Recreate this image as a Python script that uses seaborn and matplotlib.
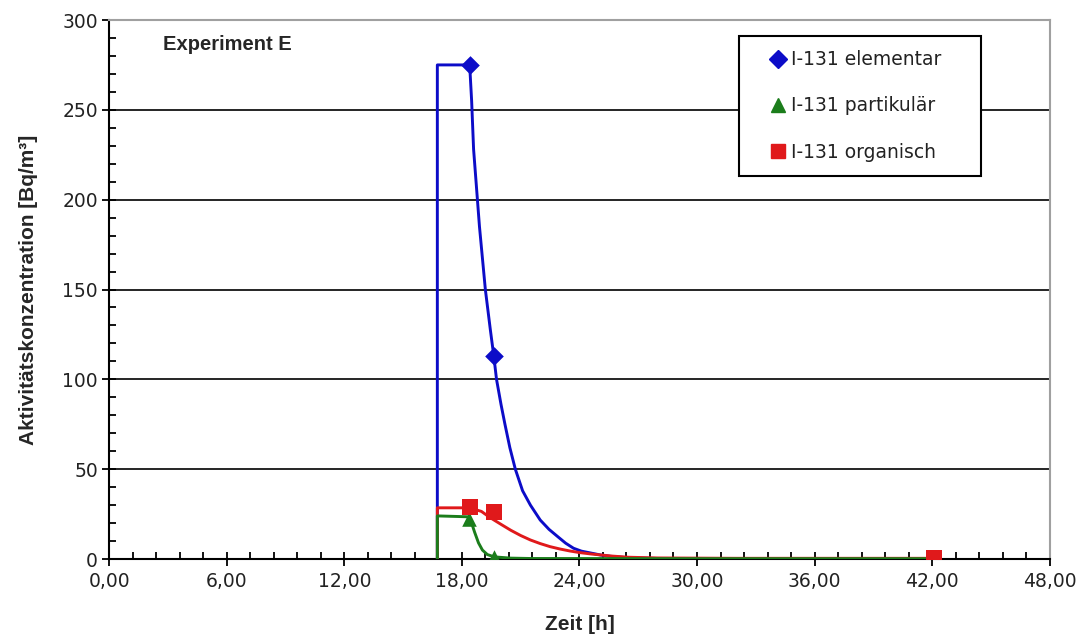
import matplotlib
matplotlib.use("Agg")
import matplotlib.pyplot as plt
import seaborn as sns
from matplotlib.lines import Line2D
from matplotlib.ticker import MultipleLocator

# ---- time axis ticks ----
x_ticks = [0, 6, 12, 18, 24, 30, 36, 42, 48]
x_tick_labels = ["0,00", "6,00", "12,00", "18,00", "24,00", "30,00", "36,00", "42,00", "48,00"]
y_ticks = [0, 50, 100, 150, 200, 250, 300]

series_names = ["I-131 elementar", "I-131 partikulär", "I-131 organisch"]

# ---- I-131 elementar: continuous trace and sample points ----
elem_t = [16.75, 16.75, 18.4, 18.5, 18.6, 18.9, 19.2, 19.45, 19.63, 19.77, 20.0, 20.2,
          20.45, 20.73, 21.1, 21.5, 22.0, 22.45, 22.9, 23.3, 23.7, 24.1, 24.6, 25.1,
          25.6, 26.5, 28.0, 32.0, 38.0, 42.1]
elem_v = [0, 275, 275, 255, 228, 185, 150, 128, 113, 100, 86, 75,
          62, 50, 38, 30, 21.7, 16.5, 12.4, 8.8, 6.0, 4.4, 3.3, 2.2,
          1.5, 0.7, 0.3, 0.2, 0.2, 0.2]
elem_pt_t = [18.4, 19.63]
elem_pt_v = [275, 113]

# ---- I-131 partikulär ----
part_t = [16.75, 16.75, 18.35, 18.5, 18.65, 18.85, 19.05, 19.3, 19.65, 20.5, 21.5, 30.0, 42.1]
part_v = [0, 24, 23.5, 20, 15, 9, 5, 2.5, 1.2, 0.5, 0.3, 0.2, 0.2]
part_pt_t = [18.35, 19.65]
part_pt_v = [22.5, 1.2]

# ---- I-131 organisch ----
org_t = [16.75, 16.75, 18.4, 19.0, 19.45, 20.0, 20.5, 21.0, 21.5, 22.0, 22.5, 23.0, 23.5,
         24.0, 24.6, 25.6, 26.5, 28.0, 32.0, 42.1]
org_v = [0, 28.5, 28.5, 26.5, 23, 19.3, 16, 13.1, 10.6, 8.6, 6.9, 5.6, 4.5,
         3.6, 2.8, 1.7, 1.0, 0.6, 0.4, 0.4]
org_pt_t = [18.4, 19.65, 42.1]
org_pt_v = [29, 26, 0.4]

BLUE = "#0c0cc8"
GREEN = "#1b7d1b"
RED = "#e0191b"

sns.set_style("white")
plt.rcParams["font.family"] = ["DejaVu Sans"]

fig = plt.figure(figsize=(10.8, 6.37), dpi=100)
ax = fig.add_axes([0.101, 0.1224, 0.871, 0.8462])

# traces: elementar below, organisch, then partikulär on top
for t, v, c in [(elem_t, elem_v, BLUE), (org_t, org_v, RED), (part_t, part_v, GREEN)]:
    sns.lineplot(x=t, y=v, ax=ax, color=c, lw=2.1, sort=False, estimator=None,
                 legend=False, zorder=3)

sns.scatterplot(x=elem_pt_t, y=elem_pt_v, ax=ax, marker="D", color=BLUE, s=90,
                edgecolor=BLUE, linewidth=0, zorder=4, legend=False)
sns.scatterplot(x=part_pt_t, y=part_pt_v, ax=ax, marker="^", color=GREEN, s=110,
                edgecolor=GREEN, linewidth=0, zorder=4, legend=False)
sns.scatterplot(x=org_pt_t, y=org_pt_v, ax=ax, marker="s", color=RED, s=120,
                edgecolor=RED, linewidth=0, zorder=4, legend=False)

ax.set_xlim(x_ticks[0], x_ticks[-1])
ax.set_ylim(y_ticks[0], y_ticks[-1])
ax.set_xticks(x_ticks)
ax.set_xticklabels(x_tick_labels)
ax.set_yticks(y_ticks)
ax.xaxis.set_minor_locator(MultipleLocator(1.2))
ax.yaxis.set_minor_locator(MultipleLocator(10))

ax.tick_params(axis="both", which="major", direction="inout", length=10, width=1.3,
               color="black", labelsize=13.5, labelcolor="#222222", pad=3)
ax.tick_params(axis="both", which="minor", direction="in", length=5, width=1.3,
               color="black")
ax.tick_params(axis="x", which="major", pad=4)
ax.tick_params(axis="x", which="both", bottom=True)
ax.tick_params(axis="y", which="both", left=True)

ax.grid(False)
ax.yaxis.grid(True, which="major", color="black", lw=1.2, zorder=1)
ax.set_axisbelow(True)
gl = ax.get_ygridlines()
gl[0].set_visible(False)
gl[-1].set_visible(False)

for side in ["left", "bottom"]:
    ax.spines[side].set_color("black")
    ax.spines[side].set_linewidth(1.5)
for side in ["top", "right"]:
    ax.spines[side].set_color("#a0a0a0")
    ax.spines[side].set_linewidth(1.5)

ax.set_xlabel("Zeit [h]", family="Liberation Sans", fontweight="bold", fontsize=15)
ax.set_ylabel("Aktivitätskonzentration [Bq/m³]", family="Liberation Sans",
              fontweight="bold", fontsize=15)
ax.xaxis.set_label_coords(0.5, -0.103)
ax.yaxis.set_label_coords(-0.076, 0.5)

ax.text(0.057, 0.954, "Experiment E", transform=ax.transAxes, family="Liberation Sans",
        fontweight="bold", fontsize=14.5, va="center", ha="left")

handles = [
    Line2D([], [], ls="none", marker="D", color=BLUE, markersize=9),
    Line2D([], [], ls="none", marker="^", color=GREEN, markersize=10),
    Line2D([], [], ls="none", marker="s", color=RED, markersize=10),
]
leg = ax.legend(handles, series_names, loc="upper left", mode="expand",
                bbox_to_anchor=(0.6695, 0.5, 0.257, 0.470), fontsize=13.5,
                frameon=True, fancybox=False, edgecolor="black", borderpad=0.75,
                labelspacing=1.45, handlelength=2.7, handletextpad=-0.65,
                borderaxespad=0)
leg.get_frame().set_linewidth(1.5)
leg.get_frame().set_facecolor("white")
leg.get_frame().set_alpha(1)
for txt in leg.get_texts():
    txt.set_color("#222222")

fig.savefig("out.png", dpi=100, facecolor="white")
